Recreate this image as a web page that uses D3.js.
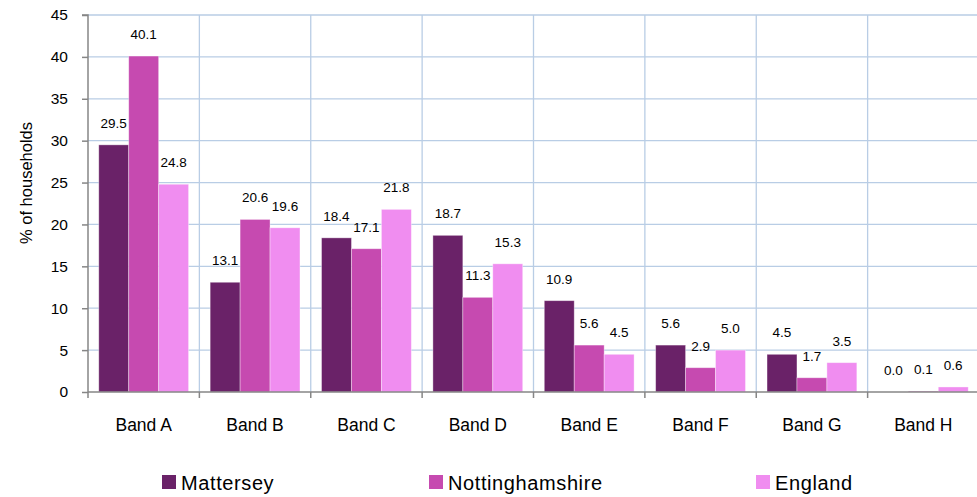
<!DOCTYPE html>
<html><head><meta charset="utf-8">
<script src="https://cdn.jsdelivr.net/npm/d3@7"></script>
<style>body{margin:0;background:#fff}svg{display:block;font-family:"Liberation Sans",Arial,sans-serif}</style>
</head><body><svg id="c" width="977" height="497"></svg>
<script>
const categories = ["Band A","Band B","Band C","Band D","Band E","Band F","Band G","Band H"];
const seriesNames = ["Mattersey","Nottinghamshire","England"];
const mattersey = [29.5,13.1,18.4,18.7,10.9,5.6,4.5,0.0];
const nottinghamshire = [40.1,20.6,17.1,11.3,5.6,2.9,1.7,0.1];
const england = [24.8,19.6,21.8,15.3,4.5,5.0,3.5,0.6];
const yTicks = [0,5,10,15,20,25,30,35,40,45];
const colors = ["#6A2268","#C64AB0","#F08DF0"];
const seriesVals = [mattersey, nottinghamshire, england];

const svg = d3.select("#c");
const pL = 88, pR = 979, pT = 15, pB = 392;
const x = d3.scaleBand().domain(categories).range([pL, pR]).paddingInner(0).paddingOuter(0);
const xs = d3.scaleBand().domain(seriesNames).range([0, x.bandwidth()]).paddingInner(0).paddingOuter(0.36);
const y = d3.scaleLinear().domain([0,45]).range([pB, pT]);

// gridlines
svg.append("g").selectAll("line").data(yTicks.filter(d=>d>0)).join("line")
  .attr("x1", pL).attr("x2", pR).attr("y1", d=>y(d)).attr("y2", d=>y(d))
  .attr("stroke", "#B9CDE5").attr("stroke-width", 1.3);
svg.append("g").selectAll("line").data(d3.range(1, categories.length+1)).join("line")
  .attr("x1", i=>pL + i*x.bandwidth()).attr("x2", i=>pL + i*x.bandwidth())
  .attr("y1", pT).attr("y2", pB)
  .attr("stroke", "#B9CDE5").attr("stroke-width", 1.3);

// bars
const g = svg.append("g");
categories.forEach((c, ci) => {
  seriesNames.forEach((s, si) => {
    const v = seriesVals[si][ci];
    const bx = x(c) + xs(s);
    g.append("rect").attr("x", bx).attr("y", y(v)).attr("width", xs.bandwidth())
      .attr("height", pB - y(v)).attr("fill", colors[si])
      .attr("stroke", v > 0 ? "rgba(255,255,255,0.45)" : "none").attr("stroke-width", 0.8);
    g.append("text").attr("x", bx + xs.bandwidth()/2).attr("y", y(v) - 17)
      .attr("text-anchor", "middle").attr("font-size", 13.5).attr("fill", "#000")
      .text(v.toFixed(1));
  });
});

// y axis
const yAxis = d3.axisLeft(y).tickValues(yTicks).tickSize(6).tickPadding(14);
const ya = svg.append("g").attr("transform", `translate(${pL},0)`).call(yAxis);
ya.select(".domain").attr("stroke", "#868686").attr("stroke-width", 1.5).attr("d", `M-6,${pT}H0V${pB}`);
ya.selectAll(".tick line").attr("stroke", "#868686").attr("stroke-width", 1.5);
ya.selectAll(".tick text").attr("font-size", 15.5).attr("fill", "#000").attr("font-family", "Liberation Sans, Arial, sans-serif");

// x axis
const xa = svg.append("g").attr("transform", `translate(0,${pB})`);
xa.append("line").attr("x1", pL).attr("x2", pR).attr("stroke", "#868686").attr("stroke-width", 1.5);
xa.selectAll("line.t").data(d3.range(categories.length+1)).join("line").attr("class","t")
  .attr("x1", i=>pL + i*x.bandwidth()).attr("x2", i=>pL + i*x.bandwidth())
  .attr("y1", 0).attr("y2", 6).attr("stroke", "#868686").attr("stroke-width", 1.5);
xa.selectAll("text").data(categories).join("text")
  .attr("x", d=>x(d)+x.bandwidth()/2).attr("y", 39)
  .attr("text-anchor", "middle").attr("font-size", 17.5).attr("fill", "#000").text(d=>d);

// y title
svg.append("text").attr("transform", "translate(32,183) rotate(-90)")
  .attr("text-anchor", "middle").attr("font-size", 16.5).attr("fill", "#000").text("% of households");

// legend
const legX = [162, 429, 756];
seriesNames.forEach((s, i) => {
  svg.append("rect").attr("x", legX[i]).attr("y", 475).attr("width", 14).attr("height", 14).attr("fill", colors[i]);
  svg.append("text").attr("x", legX[i] + 19).attr("y", 490).attr("font-size", 20).attr("letter-spacing", 0.6).attr("fill", "#000").text(s);
});
</script></body></html>
